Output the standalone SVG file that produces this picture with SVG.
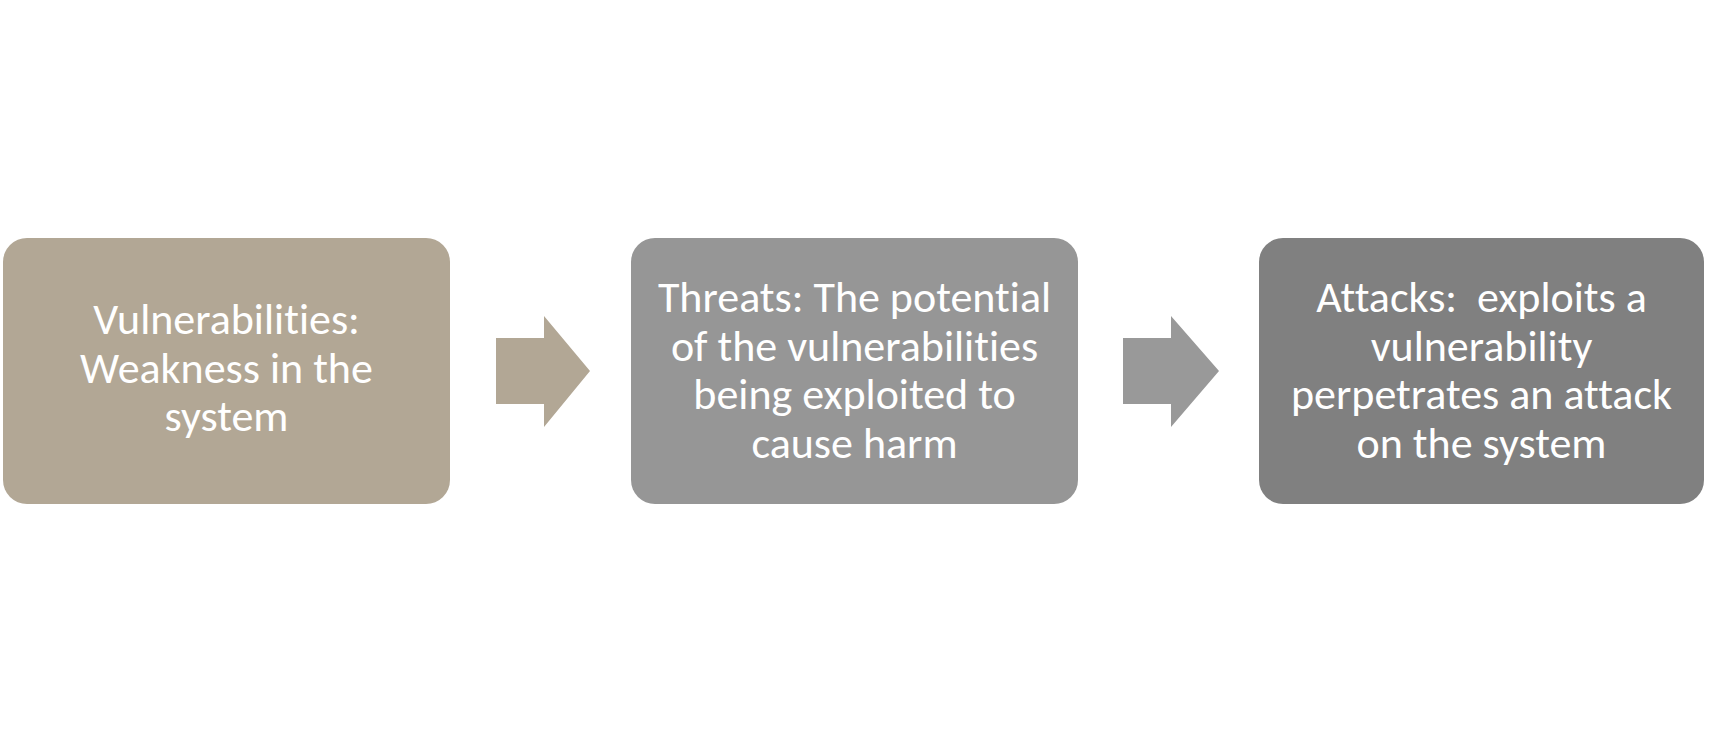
<svg xmlns="http://www.w3.org/2000/svg" width="1710" height="744" viewBox="0 0 1710 744">
<style>
  .lbl { font-family: Carlito, Lato, "Liberation Sans", sans-serif; font-size: 44px; fill: #FFFFFF; text-anchor: middle; font-variant-ligatures: none; }
</style>
<rect x="0" y="0" width="1710" height="744" fill="#FFFFFF"/>
<g id="node-vulnerabilities">
  <rect x="3" y="238" width="447" height="266" rx="24" ry="24" fill="#B2A795"/>
  <text class="lbl" x="226.5" y="334">Vulnerabilities:</text>
  <text class="lbl" x="226.5" y="382.5">Weakness in the</text>
  <text class="lbl" x="226.5" y="431">system</text>
</g>
<g id="node-threats">
  <rect x="631" y="238" width="447" height="266" rx="24" ry="24" fill="#969696"/>
  <text class="lbl" x="854.5" y="312">Threats: The potential</text>
  <text class="lbl" x="854.5" y="360.5">of the vulnerabilities</text>
  <text class="lbl" x="854.5" y="409">being exploited to</text>
  <text class="lbl" x="854.5" y="457.5">cause harm</text>
</g>
<g id="node-attacks">
  <rect x="1259" y="238" width="445" height="266" rx="24" ry="24" fill="#808080"/>
  <text class="lbl" x="1481.5" y="312" xml:space="preserve">Attacks:  exploits a</text>
  <text class="lbl" x="1481.5" y="360.5">vulnerability</text>
  <text class="lbl" x="1481.5" y="409">perpetrates an attack</text>
  <text class="lbl" x="1481.5" y="457.5">on the system</text>
</g>
<g id="connectors">
  <polygon points="496,338 544,338 544,316 590,371 544,427 544,404 496,404" fill="#B2A795"/>
  <polygon points="1123,338 1171,338 1171,316 1219,371 1171,427 1171,404 1123,404" fill="#999999"/>
</g>
</svg>
